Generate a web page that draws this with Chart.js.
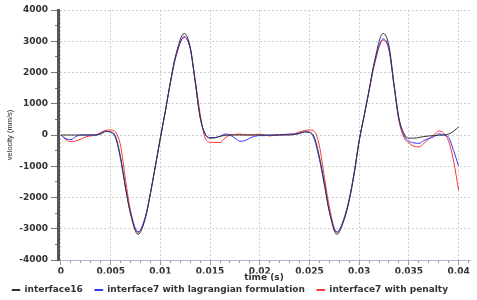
<!DOCTYPE html>
<html>
<head>
<meta charset="utf-8">
<script src="https://cdn.jsdelivr.net/npm/chart.js@4.4.1/dist/chart.umd.min.js"></script>
<style>
  html, body { margin: 0; padding: 0; background: #fff; }
  #wrap { width: 477px; height: 300px; }
</style>
</head>
<body>
<div id="wrap"><canvas id="chart"></canvas></div>
<script>
// time samples (s), shared by the three curves
const timeS = [
  0, 0.0005, 0.001, 0.0015, 0.002, 0.0025, 0.003, 0.0035, 0.004, 0.0045,
  0.005, 0.0055, 0.006, 0.0065, 0.007, 0.00775, 0.0085, 0.009, 0.0095, 0.01,
  0.0105, 0.011, 0.0115, 0.0124, 0.013, 0.0135, 0.014, 0.0145, 0.015, 0.0155,
  0.016, 0.0165, 0.017, 0.0175, 0.018, 0.0185, 0.019, 0.0195, 0.02, 0.0205,
  0.021, 0.0215, 0.022, 0.0225, 0.023, 0.0235, 0.024, 0.0245, 0.025, 0.0255,
  0.026, 0.0265, 0.027, 0.02775, 0.0285, 0.029, 0.0295, 0.03, 0.0305, 0.031,
  0.0315, 0.0324, 0.033, 0.0335, 0.034, 0.0345, 0.035, 0.0355, 0.036, 0.0365,
  0.037, 0.0375, 0.038, 0.0385, 0.039, 0.0395, 0.04
];

// velocity (mm/s)
const interface16 = [
  0, 0, 0, 0, 0, 0, 0, 0, 30, 110,
  100, -50, -720, -1700, -2530, -3180, -2650, -1880, -1000, -100,
  770, 1690, 2500, 3250, 2820, 1720, 570, 40, -100, -90,
  -40, -10, 0, 0, 0, 0, 0, 0, 0, 0,
  0, 0, 0, 0, 0, 20, 60, 100, 90, -80,
  -700, -1550, -2450, -3180, -2700, -2100, -1250, -200, 620, 1450,
  2300, 3250, 2850, 1650, 550, 50, -100, -100, -80, -50,
  -30, -20, -10, 0, 30, 120, 260
];

const lagrangian = [
  0, -120, -150, -50, 0, 0, 0, 0, 60, 120,
  80, -100, -780, -1700, -2500, -3100, -2600, -1850, -980, -90,
  760, 1660, 2450, 3150, 2760, 1700, 560, 30, -80, -80,
  -40, 30, 0, -100, -200, -180, -100, -40, -20, -20,
  -10, 0, 10, 20, 30, 30, 40, 100, 80, -150,
  -780, -1600, -2450, -3100, -2650, -2050, -1200, -170, 620, 1430,
  2250, 3070, 2750, 1600, 500, 0, -200, -250, -270, -180,
  -110, -60, 40, 0, -80, -500, -990
];

const penalty = [
  0, -150, -210, -190, -130, -60, -30, 0, 80, 150,
  160, 90, -350, -1450, -2420, -3120, -2620, -1850, -980, -90,
  750, 1650, 2430, 3120, 2780, 1780, 680, -100, -230, -240,
  -240, -100, 0, 20, 30, 10, 0, 10, 30, 0,
  -30, -10, 0, 10, 20, 40, 100, 140, 160, 110,
  -350, -1350, -2300, -3120, -2650, -2050, -1200, -170, 600, 1400,
  2200, 3030, 2720, 1580, 460, -80, -260, -360, -380, -270,
  -130, 0, 130, 60, -200, -830, -1770
];

const seriesNames = ['interface16', 'interface7 with lagrangian formulation', 'interface7 with penalty'];
const seriesColors = ['#333333', '#3535ff', '#ff3535'];

const xMin = -0.0003, xMax = 0.04115;
const yMin = -4000, yMax = 4000;

const tickFont = { family: 'DejaVu Sans', size: 9, weight: 'bold' };
const inkColor = '#333';

function toPoints(vals) {
  return vals.map((v, i) => ({ x: timeS[i], y: v }));
}

const datasets = [interface16, lagrangian, penalty].map((vals, i) => ({
  label: seriesNames[i],
  data: toPoints(vals),
  borderColor: seriesColors[i],
  backgroundColor: seriesColors[i],
  borderWidth: 1,
  pointRadius: 0,
  cubicInterpolationMode: 'monotone'
}));

new Chart(document.getElementById('chart'), {
  type: 'line',
  data: { datasets: datasets },
  options: {
    responsive: true,
    maintainAspectRatio: false,
    animation: false,
    events: [],
    layout: { padding: { top: 10, right: 7, bottom: 0, left: 0 } },
    scales: {
      x: {
        type: 'linear',
        position: 'bottom',
        weight: 1,
        min: xMin,
        max: xMax,
        afterFit: (s) => { s.height = 13.5; },
        ticks: {
          stepSize: 0.005,
          includeBounds: false,
          autoSkip: false,
          maxRotation: 0,
          padding: 1,
          color: inkColor,
          font: tickFont,
          callback: (v) => String(+v.toFixed(3))
        },
        grid: { color: '#cfcfcf', lineWidth: 1, tickColor: '#999', tickLength: 5 },
        border: { display: true, color: '#b4b4cc', width: 1, dash: [2, 2] },
        title: {
          display: true, text: 'time (s)', color: inkColor, font: tickFont,
          padding: { top: 0, bottom: -10 }
        }
      },
      x2: {
        type: 'linear',
        axis: 'x',
        position: 'bottom',
        weight: 0,
        min: xMin,
        max: xMax,
        afterFit: (s) => { s.height = 0; },
        ticks: { stepSize: 0.001, includeBounds: false, autoSkip: false, display: false },
        grid: { drawOnChartArea: false, tickColor: '#999', tickLength: 3 },
        border: { display: false }
      },
      y: {
        type: 'linear',
        position: 'left',
        weight: 1,
        min: yMin,
        max: yMax,
        afterFit: (s) => { s.width = 58; },
        ticks: {
          stepSize: 1000,
          padding: 3,
          color: inkColor,
          font: tickFont,
          callback: (v) => String(v)
        },
        grid: { color: '#cfcfcf', lineWidth: 1, tickColor: '#777', tickLength: 7 },
        border: { display: true, color: '#555', width: 3, dash: [2, 2] },
        title: {
          display: true, text: 'velocity (mm/s)', color: '#222',
          font: { family: 'Liberation Sans', size: 7.5 },
          padding: { top: 5.5, bottom: 0 }
        }
      },
      y2: {
        type: 'linear',
        axis: 'y',
        position: 'left',
        weight: 0,
        min: yMin,
        max: yMax,
        afterFit: (s) => { s.width = 0; },
        ticks: { stepSize: 500, display: false },
        grid: { drawOnChartArea: false, tickColor: '#777', tickLength: 3 },
        border: { display: false }
      }
    },
    plugins: {
      tooltip: { enabled: false },
      legend: {
        position: 'bottom',
        align: 'start',
        maxHeight: 26.5,
        labels: {
          boxWidth: 8,
          boxHeight: 1,
          padding: 12,
          color: inkColor,
          font: tickFont
        }
      }
    }
  }
});
</script>
</body>
</html>
